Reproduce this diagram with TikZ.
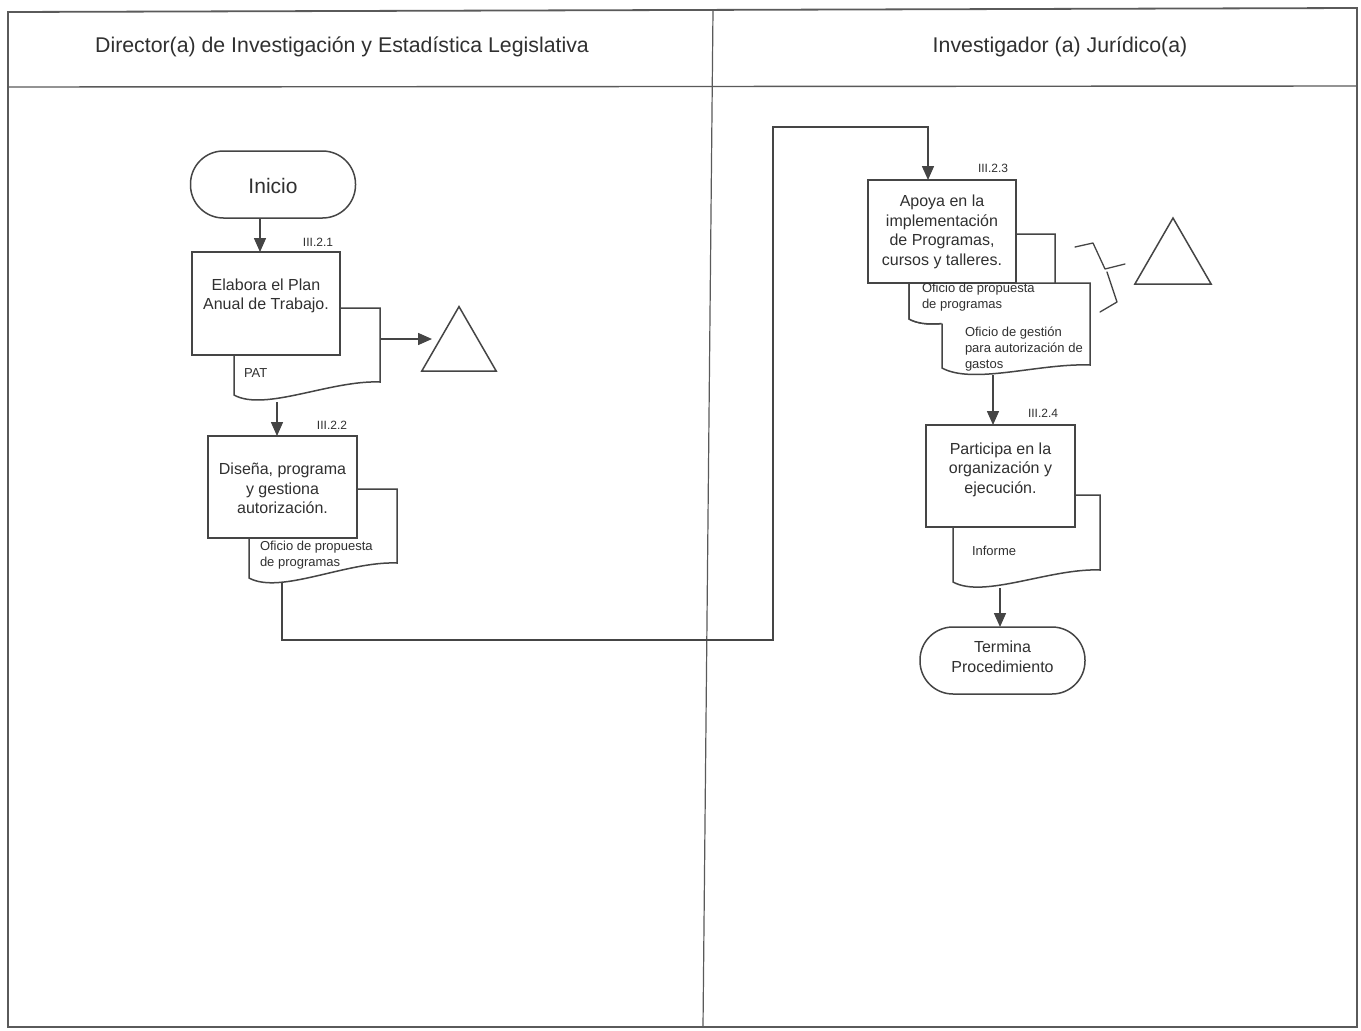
\documentclass[tikz,border=0pt]{standalone}
\usepackage{fontspec}
\setmainfont{Liberation Sans}
\usetikzlibrary{arrows.meta,shapes.geometric}

\definecolor{ink}{HTML}{454545}
\definecolor{txt}{HTML}{303030}
\definecolor{framecol}{HTML}{5A5A5A}

% outline of a document symbol: #1 left x, #2 right x, #3 top y, #4 bottom-left y, #5 bottom-right y
\newcommand\docpath[5]{%
  (#1,#3) -- (#2,#3) -- (#2,#5)
    .. controls ({#2-0.34*(#2-#1)},{#5-2}) and ({#1+0.21*(#2-#1)},{#4+17}) .. (#1,#4) -- cycle}

\begin{document}
\begin{tikzpicture}[x=1pt,y=-1pt,
  every node/.style={text=txt, inner sep=0pt, outer sep=0pt},
  shapeline/.style={draw=ink, line width=1.5pt, fill=white},
  procbox/.style={shapeline, rectangle, minimum width=148pt, minimum height=103pt},
  terminal/.style={shapeline, rectangle, rounded corners=33pt, minimum width=165pt, minimum height=67pt},
  flow/.style={draw=ink, line width=1.5pt, -{Triangle[length=14pt,width=12pt]}},
  bodytext/.style={font=\fontsize{16}{19.5}\selectfont, align=center},
  doctext/.style={font=\fontsize{13}{16}\selectfont, align=left, anchor=west},
  steplabel/.style={font=\fontsize{12}{14}\selectfont},
  headtext/.style={font=\fontsize{21.3}{24}\selectfont},
  archive/.style={draw=ink, line width=1.5pt, fill=white, regular polygon, regular polygon sides=3, minimum size=86pt},
  frameline/.style={draw=framecol, line width=1.8pt},
  bracestroke/.style={draw=ink, line width=1.3pt, line join=round, line cap=round}
]
\useasboundingbox (0,0) rectangle (1361,1031);
\fill[white] (0,0) rectangle (1361,1031);

% swimlane frame
\draw[frameline] (8,12) -- (1357,8) -- (1357,1027) -- (8,1027) -- cycle;
\draw[frameline, line width=1.4pt] (8,87) -- (1357,86);
\draw[frameline, line width=1.2pt] (713,10) -- (703,1027);

\node[headtext] (lane1) at (342,47) {Director(a) de Investigación y Estadística Legislativa};
\node[headtext] (lane2) at (1060,47) {Investigador (a) Jurídico(a)};

% ---------- left lane ----------
\node[terminal] (inicio) at (273,184.5) {};
\node[font=\fontsize{21}{24}\selectfont] (inicioT) at (273,186) {Inicio};

\filldraw[shapeline] \docpath{234}{380}{308}{395}{382};
\node[procbox] (b1) at (266,303.5) {};
\node[bodytext] (b1T) at (266,296) {Elabora el Plan\\Anual de Trabajo.};
\node[steplabel] (s1) at (318,242) {III.2.1};
\node[doctext] (pat) at (244,373) {PAT};

\node[archive] (tri1) at (459,349.6) {};
\coordinate (d1r) at (380,339);
\coordinate (tri1in) at (432,339);
\draw[flow] (d1r) -- (tri1in);

\draw[flow] ([xshift=-13pt]inicio.south) -- ([xshift=-6pt]b1.north);

\filldraw[shapeline] \docpath{249}{397}{489}{578}{563};
\node[procbox, minimum width=149pt, minimum height=102pt] (b2) at (282.5,487) {};
\node[bodytext] (b2T) at (282.5,488.5) {Diseña, programa\\y gestiona\\autorización.};
\node[steplabel] (s2) at (332,425) {III.2.2};
\node[doctext] (d2T) at (260,555) {Oficio de propuesta\\de programas};

\coordinate (d1b) at (277,402);
\draw[flow] (d1b) -- ([xshift=-5.5pt]b2.north);

% ---------- right lane ----------
\filldraw[shapeline] \docpath{909}{1055}{234}{319}{306};
\filldraw[shapeline] \docpath{942}{1090}{283}{368}{365};
% the first document stays in front of the second one on its left part
\begin{scope}
  \clip (900,230) rectangle (1000,340);
  \fill[white] \docpath{909}{1055}{234}{319}{306};
\end{scope}
\begin{scope}
  \clip (900,230) rectangle (941.5,340);
  \draw[draw=ink, line width=1.5pt] \docpath{909}{1055}{234}{319}{306};
\end{scope}
\node[procbox] (b3) at (942,231.5) {};
\node[bodytext] (b3T) at (942,232) {Apoya en la\\implementación\\de Programas,\\cursos y talleres.};
\node[steplabel] (s3) at (993,168) {III.2.3};
\node[doctext] (dAT) at (922,297.5) {Oficio de propuesta\\de programas};
\node[doctext] (dBT) at (965,349.5) {Oficio de gestión\\para autorización de\\gastos};

% brace grouping the two documents
\draw[bracestroke] (1075,247) -- (1093,243) -- (1105,269) -- (1125,264);
\draw[bracestroke] (1107,272) -- (1117,302) -- (1100,312);
\node[archive, minimum size=88pt] (tri2) at (1173,262) {};

% connector between lanes
\coordinate (d2b) at (282,583);
\coordinate (bendA) at (773,640);
\coordinate (bendB) at (773,127);
\draw[flow] (d2b) |- (bendA) -- (bendB) -| ([xshift=-14pt]b3.north);

\filldraw[shapeline] \docpath{953}{1100}{495}{582}{570};
\node[procbox, minimum width=149pt, minimum height=102pt] (b4) at (1000.5,476) {};
\node[bodytext] (b4T) at (1000.5,469.5) {Participa en la\\organización y\\ejecución.};
\node[steplabel] (s4) at (1043,413) {III.2.4};
\node[doctext] (d4T) at (972,551) {Informe};

\coordinate (dBb) at (993,375);
\draw[flow] (dBb) -- ([xshift=-7.5pt]b4.north);

\node[terminal] (fin) at (1002.5,660.5) {};
\node[bodytext] (finT) at (1002.5,657) {Termina\\Procedimiento};
\coordinate (d4b) at (1000,588);
\draw[flow] (d4b) -- ([xshift=-2.5pt]fin.north);
\end{tikzpicture}
\end{document}
